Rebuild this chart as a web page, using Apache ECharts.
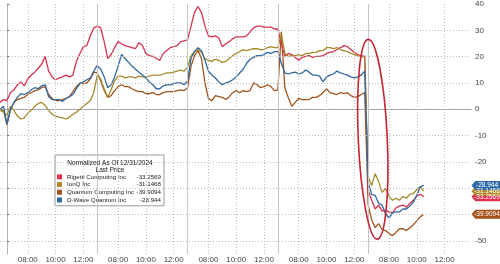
<!DOCTYPE html>
<html><head><meta charset="utf-8">
<script src="https://cdn.jsdelivr.net/npm/echarts@6/dist/echarts.min.js"></script>
<style>html,body{margin:0;padding:0;background:#fff}#c{width:500px;height:264px}</style>
</head><body><div id="c"></div>
<script>
// ---- data (15-minute steps of trading time, 5 sessions) ----
const seriesNames = ['Rigetti Computing Inc', 'IonQ Inc', 'Quantum Computing Inc', 'D-Wave Quantum Inc'];
const lastPrices = ['-33.2569', '-31.1468', '-39.9094', '-28.944'];

const rigetti = [
  2.6, 3.7, 3.3, 6.3, 7.4, 9.3, 10.4, 8.9, 11.5, 13.0, 14.1, 15.6, 17.1, 20.1, 14.5, 12.3, 11.2, 11.9, 12.3, 13.0, 12.3, 13.0, 18.2, 21.2, 23.8, 24.2, 27.9, 30.9, 31.6,
  30.9, 25.7, 19.3, 20.8, 23.4, 25.7, 24.9, 24.2, 23.8, 23.4, 23.0, 25.3, 24.2, 21.2, 20.4, 20.1, 19.3, 18.6, 21.2, 22.3, 23.4, 23.8, 24.2, 25.7, 26.0, 26.4,
  31.6, 36.8, 39.0, 36.8, 31.6, 27.9, 27.5, 27.9, 27.1, 23.8, 24.9, 25.7, 26.8, 27.5, 27.5, 27.5, 27.9, 29.4, 30.9, 31.6, 31.6, 31.2, 31.2, 31.2, 30.5, 30.5,
  24.9, 20.1, 21.2, 20.8, 19.7, 18.6, 19.7, 20.1, 20.4, 19.7, 20.1, 20.1, 20.4, 21.2, 21.6, 21.9, 22.7, 23.4, 24.2, 23.8, 22.7, 21.6, 20.8, 20.4, 20.1,
  -30.9, -34.6, -37.9, -36.4, -38.7, -38.3, -39.0, -39.4, -37.5, -36.8, -36.4, -37.2, -35.7, -34.6, -33.1, -32.3, -33.2569
];
const ionq = [
  -0.4, -1.1, -2.2, 1.1, -0.4, -2.6, -3.7, -3.3, -1.5, -0.4, 1.1, 2.2, 2.6, 1.5, -0.4, -1.9, -2.6, -3.0, -3.3, -3.7, -3.0, -1.9, -1.1, 0.0, 1.1, 2.2, 3.3, 6.3, 13.0,
  11.5, 7.8, 4.5, 7.4, 10.8, 12.6, 12.6, 11.9, 12.3, 12.3, 11.9, 12.6, 12.3, 12.3, 12.6, 13.0, 13.0, 13.0, 13.4, 13.8, 13.8, 14.1, 14.5, 14.9, 14.5, 16.0,
  20.4, 21.9, 22.7, 21.6, 19.3, 18.6, 18.2, 19.0, 18.6, 17.8, 18.2, 19.3, 20.4, 21.2, 21.9, 22.7, 22.3, 22.7, 23.0, 23.0, 22.7, 22.7, 23.4, 23.8, 23.4, 23.4,
  28.6, 21.2, 20.1, 20.4, 20.4, 20.8, 20.4, 21.2, 21.2, 21.6, 21.6, 22.3, 22.3, 23.4, 23.4, 23.0, 23.4, 22.7, 22.3, 21.9, 21.2, 20.8, 20.4, 20.1, 19.7,
  -25.7, -29.0, -24.5, -27.5, -31.6, -30.1, -33.1, -34.6, -33.8, -34.6, -33.1, -33.8, -32.3, -32.0, -30.5, -29.4, -31.1468
];
const quantumComputing = [
  0.0, -0.4, -5.9, -0.4, 2.6, 3.7, 4.1, 4.5, 5.6, 6.3, 7.1, 7.4, 8.2, 8.6, 5.6, 4.1, 3.3, 3.3, 3.7, 4.1, 4.8, 6.7, 8.6, 10.0, 9.7, 10.0, 11.5, 14.1, 13.8,
  10.8, 7.1, 4.5, 5.2, 7.1, 8.6, 9.3, 8.6, 8.6, 7.8, 7.1, 6.7, 6.7, 5.9, 5.9, 6.3, 5.6, 5.6, 6.3, 6.7, 6.7, 6.7, 7.1, 7.4, 7.1, 8.2,
  16.4, 20.4, 22.3, 19.3, 10.0, 4.1, 3.3, 5.2, 4.8, 4.5, 3.7, 4.8, 6.3, 7.1, 6.3, 7.1, 6.7, 7.1, 10.0, 9.3, 8.2, 8.6, 9.3, 8.6, 7.1, 7.4,
  29.4, 8.2, 4.5, 1.1, 2.6, 4.1, 3.7, 3.7, 3.7, 4.5, 4.5, 5.2, 6.3, 7.8, 6.3, 5.9, 5.6, 6.3, 5.9, 6.3, 5.2, 4.5, 4.8, 5.6, 6.3,
  -36.4, -42.0, -45.0, -43.5, -45.7, -46.1, -47.2, -48.0, -46.8, -45.4, -45.4, -46.1, -45.0, -43.9, -42.4, -40.9, -39.9094
];
const dwave = [
  0.0, 1.1, -5.6, 0.0, 2.6, 4.5, 5.9, 5.6, 6.3, 7.4, 8.2, 7.8, 8.9, 9.3, 4.8, 3.7, 3.7, 3.7, 3.0, 4.1, 4.8, 5.6, 7.8, 9.7, 10.4, 11.2, 11.9, 14.5, 16.7,
  15.2, 12.3, 8.2, 9.3, 12.3, 16.4, 20.8, 19.3, 17.8, 16.4, 15.2, 14.1, 13.0, 11.9, 10.4, 9.3, 7.8, 7.8, 8.9, 9.3, 9.3, 9.7, 10.0, 10.0, 9.3, 10.8,
  19.3, 21.9, 23.4, 22.3, 18.6, 14.5, 13.0, 11.9, 10.4, 9.3, 10.0, 10.4, 11.2, 12.3, 13.8, 15.2, 17.5, 19.0, 19.7, 20.4, 20.4, 20.8, 21.6, 21.2, 21.9, 21.9,
  17.5, 13.8, 13.4, 13.8, 14.1, 13.4, 13.8, 14.9, 14.1, 13.0, 13.0, 12.6, 10.4, 12.3, 13.0, 13.4, 14.5, 13.8, 13.4, 13.0, 12.3, 11.9, 12.3, 13.0, 14.5,
  -27.9, -32.3, -32.7, -35.7, -36.4, -39.8, -41.3, -39.4, -39.0, -39.0, -37.9, -37.9, -36.8, -35.3, -32.7, -29.4, -28.944
];

const yTicks = [-50, -40, -30, -20, -10, 0, 10, 20, 30, 40];
const sessionStarts = [0, 6.5, 13, 19.5, 26];      // trading hours since first open (06:30)
const clockOffsets = [1.5, 3.5, 5.5];               // 08:00, 10:00, 12:00
const X_MIN = -0.5, X_MAX = 33.4, STEP = 0.25;
const times = rigetti.map((_, i) => X_MIN + STEP * i);

const colors = { 'Rigetti Computing Inc': '#d83350', 'IonQ Inc': '#a58a2c', 'Quantum Computing Inc': '#a3541b', 'D-Wave Quantum Inc': '#32699f' };
const tagColors = { 'Rigetti Computing Inc': '#e2304f', 'IonQ Inc': '#b08a2a', 'Quantum Computing Inc': '#a4521c', 'D-Wave Quantum Inc': '#2e6aa6' };
const FONT = '"Liberation Sans", Arial, sans-serif';

const labelPos = [];
sessionStarts.forEach(s => clockOffsets.forEach(o => labelPos.push(s + o)));
function clock(v) {
  const d = ((v % 6.5) + 6.5) % 6.5;
  const m = Math.round(390 + d * 60);
  const p = n => (n < 10 ? '0' : '') + n;
  return p(Math.floor(m / 60)) + ':' + p(m % 60);
}

const dataByName = {
  'Rigetti Computing Inc': rigetti, 'IonQ Inc': ionq,
  'Quantum Computing Inc': quantumComputing, 'D-Wave Quantum Inc': dwave
};
const lastByName = {};
seriesNames.forEach((n, i) => lastByName[n] = lastPrices[i]);

function mk(name) {
  const arr = dataByName[name];
  const last = arr[arr.length - 1];
  return {
    name, type: 'line', symbol: 'none', showSymbol: false,
    data: times.map((t, i) => [t, arr[i]]),
    lineStyle: { width: 1.3, color: colors[name] },
    itemStyle: { color: colors[name] },
    emphasis: { disabled: true },
    markPoint: {
      silent: true,
      symbol: 'path://M0,5L4,0L30,0L30,10L4,10Z',
      symbolSize: [29, 9],
      symbolKeepAspect: false,
      symbolOffset: [15, 0],
      itemStyle: { color: tagColors[name] },
      label: { show: true, position: 'inside', formatter: lastByName[name], color: '#fff', fontSize: 6.5, fontFamily: FONT, offset: [1, 0] },
      data: [{ coord: [X_MAX, last], value: last }]
    }
  };
}

const dotted = { type: [1, 2], color: '#bdbdbd', width: 1 };
const gridSeries = {
  name: '_grid', type: 'line', data: [], z: 1, silent: true,
  markLine: {
    silent: true, symbol: ['none', 'none'], label: { show: false }, animation: false,
    data: [].concat(
      yTicks.filter(v => v < 40).map(v => ({ yAxis: v, lineStyle: dotted })),
      labelPos.map(v => ({ xAxis: v, lineStyle: dotted })),
      sessionStarts.slice(1).map(v => ({ xAxis: v, lineStyle: { type: 'solid', color: '#c6c6c6', width: 1 } }))
    )
  }
};

const chart = echarts.init(document.getElementById('c'), null, { renderer: 'canvas', width: 500, height: 264 });
chart.setOption({
  animation: false,
  backgroundColor: '#ffffff',
  grid: { left: 0, right: 29, top: 0, bottom: 9 },
  xAxis: {
    type: 'value', min: X_MIN, max: X_MAX,
    splitLine: { show: false },
    axisLine: { show: true, lineStyle: { color: '#9a9a9a' } },
    axisTick: { show: true, customValues: sessionStarts.slice(1), length: 9, lineStyle: { color: '#c6c6c6' } },
    axisLabel: { customValues: labelPos, formatter: clock, fontSize: 8, color: '#444', margin: 2, fontFamily: FONT }
  },
  yAxis: {
    type: 'value', position: 'right', min: -55, max: 40,
    splitLine: { show: false },
    axisLine: { show: true, lineStyle: { color: '#b9b0b3' } },
    axisTick: { show: true, customValues: yTicks, length: 3, lineStyle: { color: '#888' } },
    axisLabel: { customValues: yTicks, fontSize: 8, color: '#444', margin: 4, fontFamily: FONT }
  },
  legend: {
    data: seriesNames.map(n => ({ name: n, itemStyle: { color: tagColors[n] } })),
    orient: 'vertical', left: 55, top: 155,
    padding: [18, 3, 2, 2], itemGap: 0, itemWidth: 5, itemHeight: 5, icon: 'rect',
    backgroundColor: '#fff', borderColor: '#9a9a9a', borderWidth: 1,
    selectedMode: false,
    formatter: n => '{n|' + n + '}{v|' + lastByName[n] + '}',
    textStyle: {
      fontSize: 6.2, fontFamily: FONT, color: '#222', lineHeight: 7.7,
      rich: {
        n: { width: 67, fontSize: 6.2, fontFamily: FONT, color: '#222', lineHeight: 7.7 },
        v: { width: 27, align: 'right', fontSize: 6.2, fontFamily: FONT, color: '#222', lineHeight: 7.7 }
      }
    }
  },
  series: [gridSeries, mk('Quantum Computing Inc'), mk('Rigetti Computing Inc'), mk('IonQ Inc'), mk('D-Wave Quantum Inc')]
});

const ell = chart.convertToPixel({ gridIndex: 0 }, [26.33, -11.4]);
chart.setOption({
  graphic: [
    { type: 'text', z: 100, style: { text: 'Normalized As Of 12/31/2024\nLast Price', x: 110, y: 159, align: 'center', verticalAlign: 'top', fontSize: 6.5, lineHeight: 7.6, fontFamily: FONT, fill: '#222' } },
    { type: 'ellipse', z: 100, x: ell[0], y: ell[1], rotation: 0.045, shape: { cx: 0, cy: 0, rx: 14.5, ry: 100 }, style: { fill: 'none', stroke: '#c42233', lineWidth: 1.6 } }
  ]
});
</script>
</body></html>
